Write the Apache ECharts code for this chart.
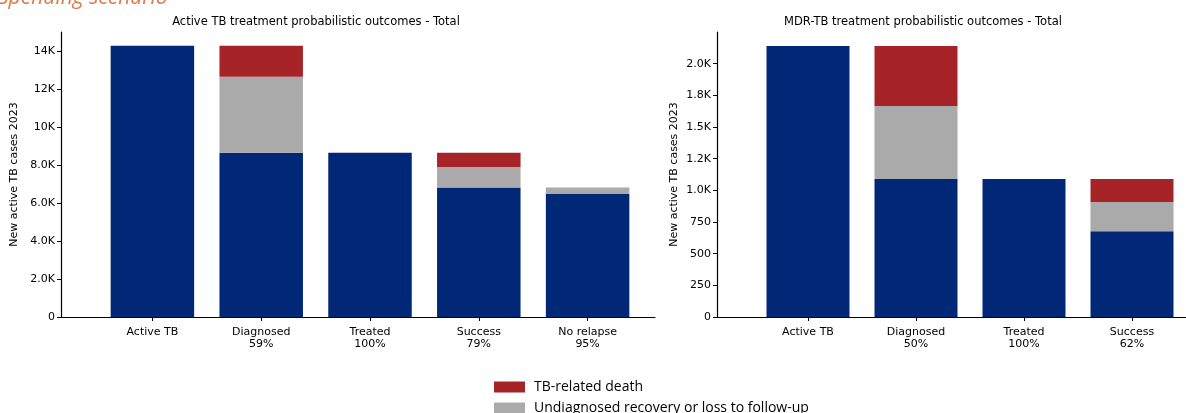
<!DOCTYPE html>
<html><head><meta charset="utf-8">
<script src="https://cdn.jsdelivr.net/npm/echarts@6/dist/echarts.min.js"></script>
<style>html,body{margin:0;padding:0;background:#fff}#c{width:1186px;height:413px}</style>
</head><body><div id="c"></div>
<script>
// ---- data ----
const catsA = ['Active TB', 'Diagnosed\n59%', 'Treated\n100%', 'Success\n79%', 'No relapse\n95%'];
const baseA = [14280, 8640, 8640, 6820, 6480];
const greyA = [0, 4000, 0, 1080, 340];
const redA  = [0, 1640, 0, 740, 0];
const yTicksA = [0, 2000, 4000, 6000, 8000, 10000, 12000, 14000];
const yLabelsA = ['0', '2.0K', '4.0K', '6.0K', '8.0K', '10K', '12K', '14K'];

const catsB = ['Active TB', 'Diagnosed\n50%', 'Treated\n100%', 'Success\n62%'];
const baseB = [2140, 1090, 1090, 677];
const greyB = [0, 575, 0, 231];
const redB  = [0, 475, 0, 181];
const yTicksB = [0, 250, 500, 750, 1000, 1250, 1500, 1750, 2000];
const yLabelsB = ['0', '250', '500', '750', '1.0K', '1.2K', '1.5K', '1.8K', '2.0K'];

const titleA = 'Active TB treatment probabilistic outcomes - Total';
const titleB = 'MDR-TB treatment probabilistic outcomes - Total';
const yName = 'New active TB cases 2023';
const nameRed = 'TB-related death';
const nameGrey = 'Undiagnosed recovery or loss to follow-up';
const nameBlue = 'Outcome';

// ---- styles ----
const BLUE = '#012877', GREY = '#aaaaaa', RED = '#a62328';
const FONT = 'DejaVu Sans';
const AXC = '#000';

// frame axes (axis lines, y ticks/labels/name)
function frameX(gi) {
  return { type: 'value', gridIndex: gi, min: 0, max: 1,
    axisLine: { show: true, onZero: false, lineStyle: { color: AXC, width: 1.2 } },
    axisTick: { show: false }, axisLabel: { show: false }, splitLine: { show: false } };
}
function frameY(gi, ticks, labels, max) {
  return {
    type: 'value', gridIndex: gi, min: 0, max: max,
    name: yName, nameLocation: 'middle', nameRotate: 90, nameGap: 37,
    nameTextStyle: { fontFamily: FONT, fontSize: 11, color: AXC },
    axisLine: { show: true, lineStyle: { color: AXC, width: 1.2 } },
    axisTick: { show: true, customValues: ticks, length: 4, lineStyle: { color: AXC } },
    axisLabel: { customValues: ticks, formatter: v => labels[ticks.indexOf(v)] ?? '',
      fontFamily: FONT, fontSize: 11, color: AXC, margin: 6 },
    splitLine: { show: false }
  };
}
// bar axes
function barX(gi, cats) {
  return { type: 'category', gridIndex: gi, data: cats,
    axisLine: { show: false },
    axisTick: { show: true, alignWithLabel: true, length: 4, lineStyle: { color: AXC } },
    axisLabel: { fontFamily: FONT, fontSize: 11, color: AXC, lineHeight: 12, margin: 9 },
    splitLine: { show: false } };
}
function barY(gi, max) {
  return { type: 'value', gridIndex: gi, min: 0, max: max, show: false, splitLine: { show: false } };
}
function bars(ai, name, data, color, stack, w) {
  return { type: 'bar', name: name, xAxisIndex: ai, yAxisIndex: ai, stack: stack,
    data: data, barWidth: w, itemStyle: { color: color }, emphasis: { disabled: true } };
}
function legendItem(name, top) {
  return { data: [name], orient: 'vertical', left: 494, top: top, padding: 0,
    itemWidth: 31, itemHeight: 11, selectedMode: false, icon: 'rect',
    textStyle: { fontFamily: 'Open Sans', fontSize: 14, color: AXC, padding: [0, 0, 0, 4] } };
}

const chart = echarts.init(document.getElementById('c'), null, { renderer: 'canvas' });
chart.setOption({
  animation: false,
  title: [
    { text: 'Spending scenario', left: -7, top: -17,
      textStyle: { fontFamily: 'Open Sans', fontStyle: 'italic', fontWeight: 'normal', fontSize: 21, color: '#e07a4a' } },
    { text: titleA, left: 311, top: 11, textAlign: 'center',
      textStyle: { fontFamily: FONT, fontWeight: 'normal', fontSize: 11.5, color: AXC } },
    { text: titleB, left: 918, top: 11, textAlign: 'center',
      textStyle: { fontFamily: FONT, fontWeight: 'normal', fontSize: 11.5, color: AXC } }
  ],
  legend: [legendItem(nameRed, 380), legendItem(nameGrey, 401)],
  grid: [
    { left: 61, right: 531, top: 32, bottom: 96 },      // frame A
    { left: 98, right: 544, top: 32, bottom: 96 },      // bars A
    { left: 717, right: 0, top: 32, bottom: 96 },       // frame B
    { left: 754, right: 0, top: 32, bottom: 96 }        // bars B
  ],
  xAxis: [frameX(0), barX(1, catsA), frameX(2), barX(3, catsB)],
  yAxis: [frameY(0, yTicksA, yLabelsA, 15000), barY(1, 15000),
          frameY(2, yTicksB, yLabelsB, 2250), barY(3, 2250)],
  series: [
    bars(1, nameBlue, baseA, BLUE, 'a', 83.5),
    bars(1, nameGrey, greyA, GREY, 'a', 83.5),
    bars(1, nameRed, redA, RED, 'a', 83.5),
    bars(3, nameBlue, baseB, BLUE, 'b', 83),
    bars(3, nameGrey, greyB, GREY, 'b', 83),
    bars(3, nameRed, redB, RED, 'b', 83)
  ]
});
</script></body></html>
